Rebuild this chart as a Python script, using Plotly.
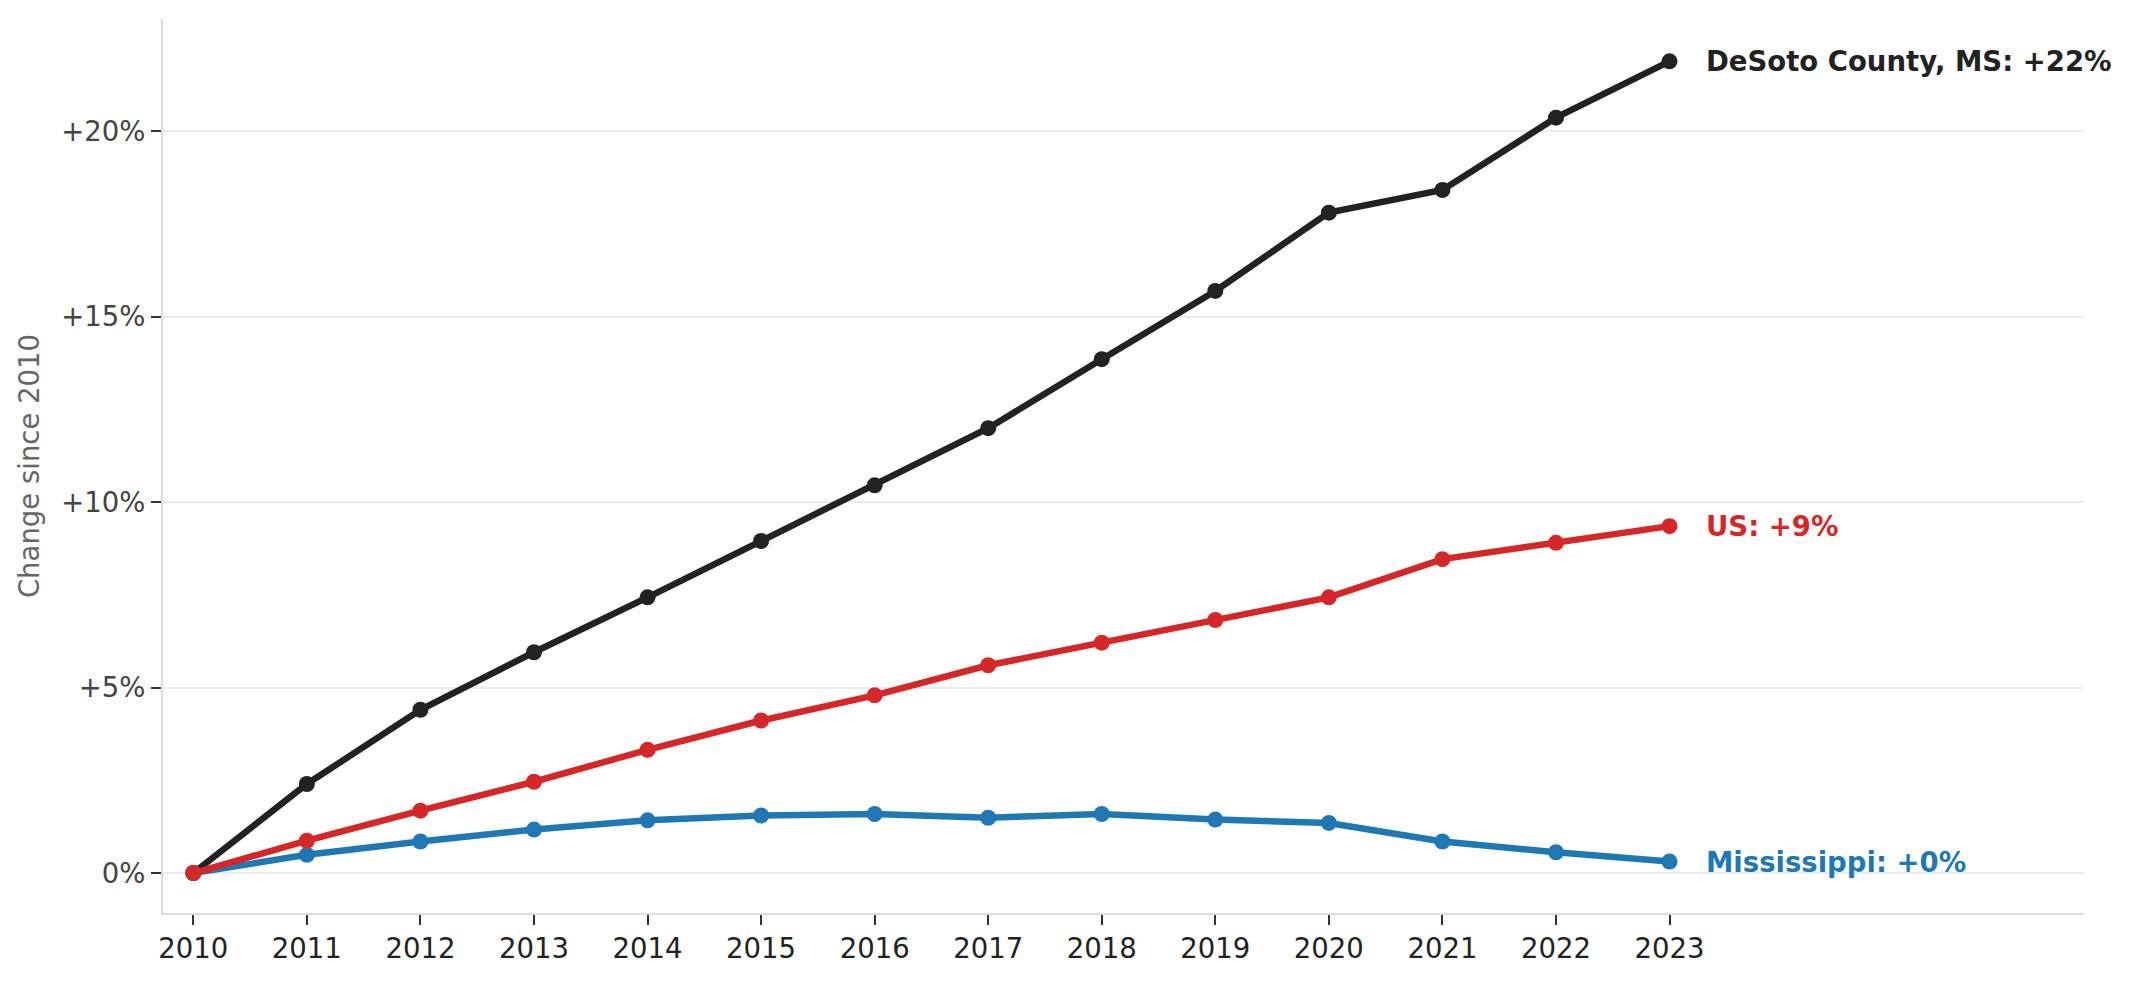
import plotly.graph_objects as go

years = list(range(2010, 2024))
desoto = [0, 2.40, 4.40, 5.95, 7.43, 8.95, 10.45, 11.99, 13.85, 15.69, 17.80, 18.41, 20.36, 21.88]
us = [0, 0.87, 1.68, 2.46, 3.32, 4.11, 4.79, 5.60, 6.21, 6.82, 7.43, 8.46, 8.90, 9.35]
mississippi = [0, 0.49, 0.85, 1.17, 1.42, 1.55, 1.59, 1.49, 1.59, 1.44, 1.35, 0.85, 0.56, 0.31]

series_names = ["DeSoto County, MS", "Mississippi", "US"]
series_values = [desoto, mississippi, us]
series_colors = ["#222222", "#1f77b4", "#d62728"]

ytick_vals = [0, 5, 10, 15, 20]
ytick_text = ["0%", "+5%", "+10%", "+15%", "+20%"]

FONT = "DejaVu Sans"

fig = go.Figure()
for name, vals, col in zip(series_names, series_values, series_colors):
    fig.add_trace(go.Scatter(
        x=years, y=vals, mode="lines+markers", name=name,
        line=dict(color=col, width=6.5),
        marker=dict(color=col, size=16, line=dict(width=0)),
        showlegend=False,
    ))
    last = vals[-1]
    fig.add_annotation(
        x=years[-1], y=last, text=f"<b>{name}: +{round(last):.0f}%</b>",
        showarrow=False, xanchor="left", yanchor="middle", xshift=34,
        font=dict(family=FONT, size=27.5, color=col),
    )

fig.update_layout(
    width=2135, height=981,
    margin=dict(l=163, r=51, t=19, b=68),
    plot_bgcolor="white", paper_bgcolor="white",
    font=dict(family=FONT, size=27.5, color="#333333"),
)
fig.update_xaxes(
    range=[2009.733, 2026.65],
    tickmode="array", tickvals=years, ticktext=[str(y) for y in years],
    showgrid=False, zeroline=False,
    showline=True, linecolor="#dcdcdc", linewidth=2,
    ticks="outside", ticklen=10, tickwidth=2, tickcolor="#333333",
    tickfont=dict(family=FONT, size=27.5, color="#222222"),
)
fig.update_yaxes(
    range=[-1.078, 23.02],
    tickmode="array", tickvals=ytick_vals, ticktext=ytick_text,
    showgrid=True, gridcolor="#ececec", gridwidth=2,
    zeroline=False,
    showline=True, linecolor="#dcdcdc", linewidth=2,
    ticks="outside", ticklen=10, tickwidth=2, tickcolor="#333333",
    tickfont=dict(family=FONT, size=27.5, color="#444444"),
    title=dict(text="Change since 2010", font=dict(family=FONT, size=27.5, color="#666666"), standoff=14),
)

fig.write_html("out.html")
